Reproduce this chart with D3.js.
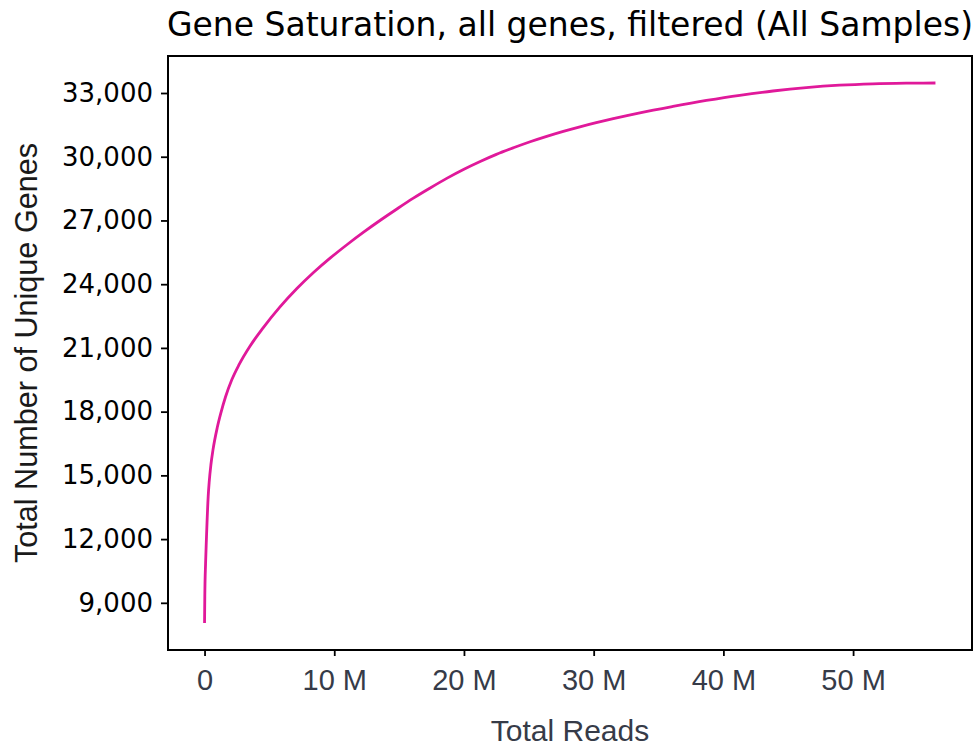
<!DOCTYPE html>
<html>
<head>
<meta charset="utf-8">
<script src="https://cdn.jsdelivr.net/npm/d3@7"></script>
<style>
  html, body { margin: 0; padding: 0; background: #fff; }
  svg { display: block; }
</style>
</head>
<body>
<svg id="chart" width="976" height="747"></svg>
<script>
// ---- data ----
const title = "Gene Saturation, all genes, filtered (All Samples)";
const xLabel = "Total Reads";
const yLabel = "Total Number of Unique Genes";

// total reads, in millions
const readsM = [0.00, 0.02, 0.08, 0.15, 0.28, 0.36, 0.49, 0.65, 0.98, 1.25, 1.62, 2.10, 2.65, 3.50, 4.50, 5.80,
  7.12, 8.40, 9.70, 11.00, 12.26, 13.55, 14.83, 16.10, 17.40, 18.67, 20.00, 21.25, 22.50, 23.81, 25.10,
  26.38, 27.66, 28.94, 30.20, 31.51, 33.56, 36.12, 38.69, 41.26, 43.82, 46.39, 48.96, 51.52, 54.09, 56.35];
// unique genes detected
const genes = [8050, 9300, 10870, 12100, 14000, 14700, 15500, 16200, 17250, 17920, 18700, 19500, 20200, 21078, 21928, 22916,
  23794, 24549, 25238, 25869, 26449, 27010, 27541, 28050, 28530, 28980, 29410, 29775, 30110, 30420, 30705,
  30960, 31195, 31410, 31605, 31795, 32070, 32370, 32648, 32893, 33095, 33255, 33368, 33433, 33462, 33471];

const xTicksM = [0, 10, 20, 30, 40, 50];
const xTickLabels = ["0", "10 M", "20 M", "30 M", "40 M", "50 M"];
const yTicks = [9000, 12000, 15000, 18000, 21000, 24000, 27000, 30000, 33000];

const lineColor = "#e0199a";

// ---- layout ----
const svg = d3.select("#chart");
const plot = { left: 168, right: 972, top: 56, bottom: 650 };

const data = readsM.map((r, i) => ({ x: r * 1e6, y: genes[i] }));

const xExt = d3.extent(data, d => d.x);
const yExt = d3.extent(data, d => d.y);
const xPad = (xExt[1] - xExt[0]) * 0.05;
const yPad = (yExt[1] - yExt[0]) * 0.05;

const x = d3.scaleLinear().domain([xExt[0] - xPad, xExt[1] + xPad]).range([plot.left, plot.right]);
const y = d3.scaleLinear().domain([yExt[0] - yPad, yExt[1] + yPad]).range([plot.bottom, plot.top]);

// line
const line = d3.line().x(d => x(d.x)).y(d => y(d.y)).curve(d3.curveMonotoneX);
svg.append("path")
  .datum(data)
  .attr("fill", "none")
  .attr("stroke", lineColor)
  .attr("stroke-width", 2.8)
  .attr("stroke-linejoin", "round")
  .attr("stroke-linecap", "butt")
  .attr("d", line);

// frame
svg.append("rect")
  .attr("x", plot.left).attr("y", plot.top)
  .attr("width", plot.right - plot.left).attr("height", plot.bottom - plot.top)
  .attr("fill", "none").attr("stroke", "#000").attr("stroke-width", 2);

// y axis
const yAxis = d3.axisLeft(y)
  .tickValues(yTicks)
  .tickFormat(d3.format(","))
  .tickSize(7)
  .tickPadding(8);
const gy = svg.append("g").attr("transform", `translate(${plot.left},0)`).call(yAxis);
gy.select(".domain").remove();
gy.selectAll(".tick line").attr("stroke", "#000").attr("stroke-width", 1.8);
gy.selectAll(".tick text")
  .attr("fill", "#000")
  .style("font-family", "'DejaVu Sans', sans-serif")
  .style("font-size", "26px");

// x axis
const xAxis = d3.axisBottom(x)
  .tickValues(xTicksM.map(v => v * 1e6))
  .tickFormat((d, i) => xTickLabels[i])
  .tickSize(6)
  .tickPadding(13);
const gx = svg.append("g").attr("transform", `translate(0,${plot.bottom})`).call(xAxis);
gx.select(".domain").remove();
gx.selectAll(".tick line").attr("stroke", "#000").attr("stroke-width", 1.8);
gx.selectAll(".tick text")
  .attr("fill", "#363b48")
  .style("font-family", "'Liberation Sans', Arial, sans-serif")
  .style("font-size", "29px");

// title
svg.append("text")
  .attr("x", (plot.left + plot.right) / 2)
  .attr("y", 36)
  .attr("text-anchor", "middle")
  .attr("fill", "#000")
  .style("font-family", "'DejaVu Sans', sans-serif")
  .style("font-size", "33px")
  .text(title);

// x label
svg.append("text")
  .attr("x", (plot.left + plot.right) / 2)
  .attr("y", 741)
  .attr("text-anchor", "middle")
  .attr("fill", "#363b48")
  .style("font-family", "'Liberation Sans', Arial, sans-serif")
  .style("font-size", "30px")
  .text(xLabel);

// y label
svg.append("text")
  .attr("transform", `translate(37,${(plot.top + plot.bottom) / 2}) rotate(-90)`)
  .attr("text-anchor", "middle")
  .attr("fill", "#1a1a1a")
  .style("font-family", "'Liberation Sans', Arial, sans-serif")
  .style("font-size", "30.6px")
  .text(yLabel);
</script>
</body>
</html>
